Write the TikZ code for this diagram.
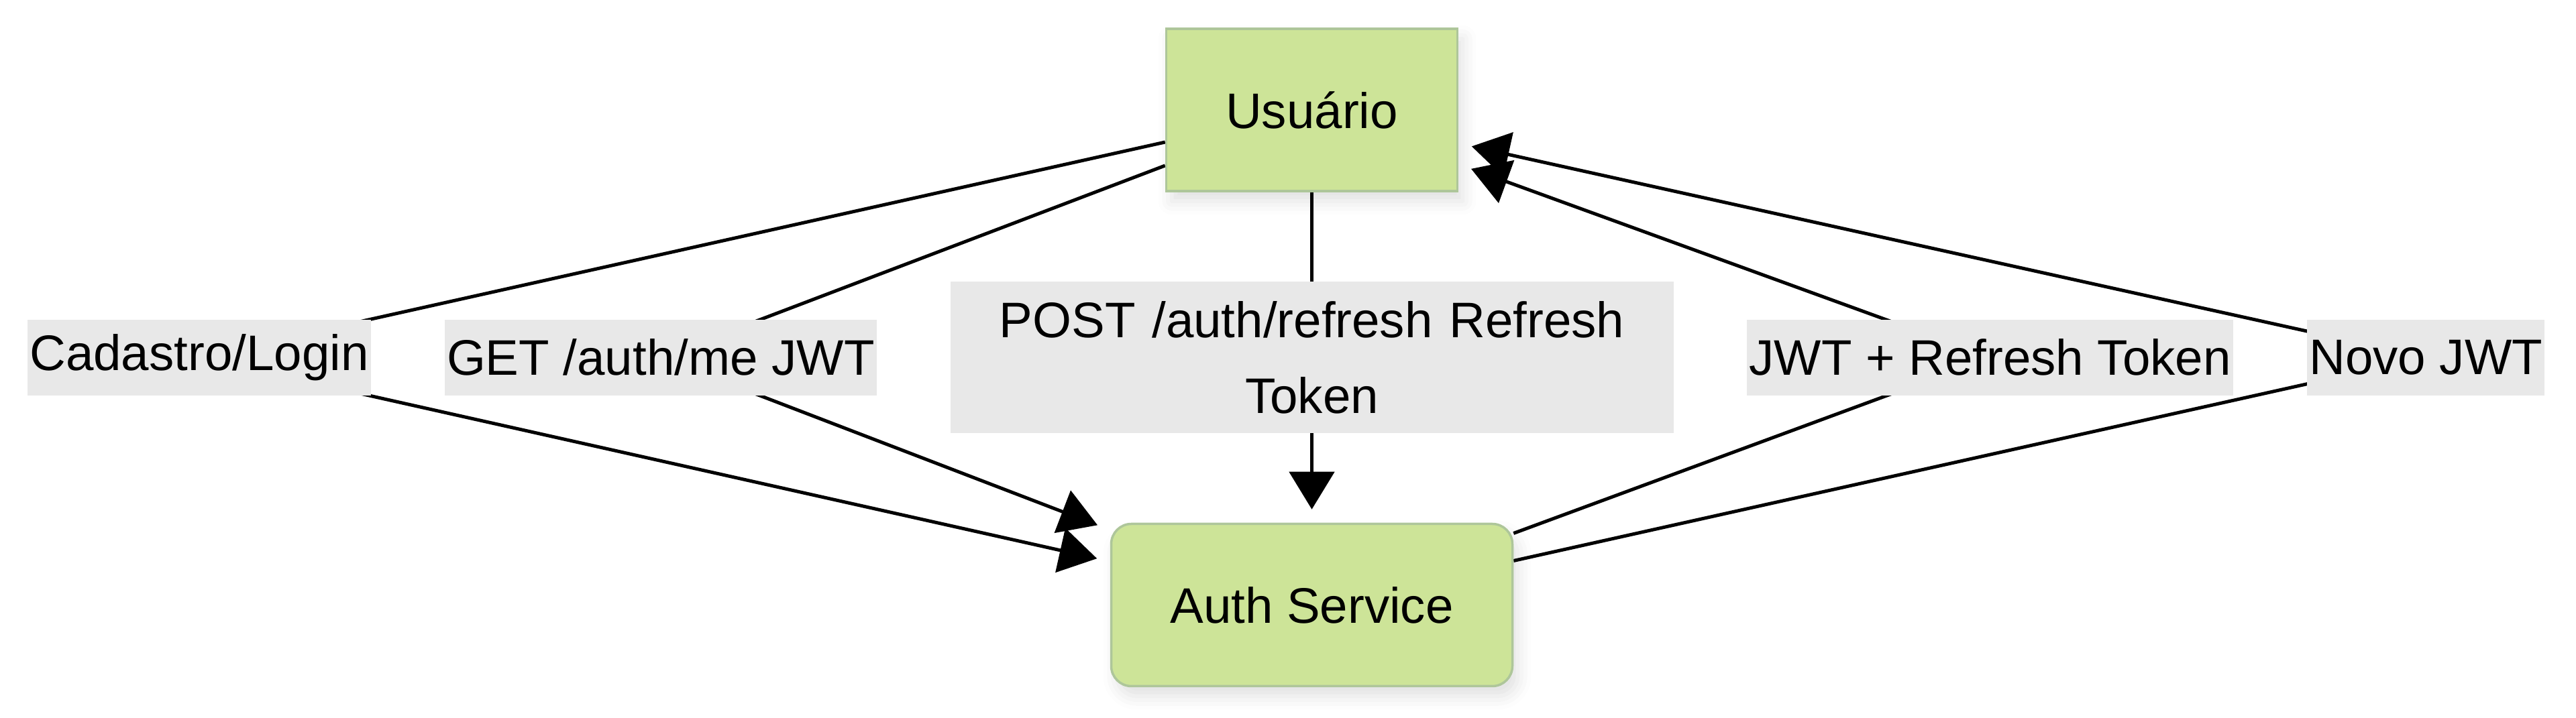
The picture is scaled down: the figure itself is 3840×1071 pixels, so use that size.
\documentclass[tikz,border=0pt]{standalone}
\usepackage{fontspec}
\setmainfont{Liberation Sans}
\usepackage{tikz}
\usetikzlibrary{arrows.meta,backgrounds,calc,positioning,shadows.blur}
\definecolor{nodefill}{HTML}{CDE498}
\definecolor{nodeline}{HTML}{AEC69A}
\definecolor{labelfill}{HTML}{E8E8E8}
\tikzstyle{entity}=[rectangle,draw=nodeline,line width=0.35mm,fill=nodefill,minimum width=43.4mm,minimum height=24.2mm,blur shadow={shadow xshift=0.8mm,shadow yshift=-1.5mm,shadow blur radius=2mm,shadow opacity=12}]
\tikzstyle{service}=[entity,rounded corners=3mm,minimum width=59.8mm]
\tikzstyle{msg}=[rectangle,fill=labelfill,inner xsep=0.35mm,inner ysep=0,minimum height=11.3mm,align=center]
\tikzstyle{flow}=[line width=0.5mm,shorten >=2mm]

\begin{document}
\begin{tikzpicture}[x=0.1mm,y=-0.1mm]
		\useasboundingbox (0,0) rectangle (3840,1071);
		\begin{scope}[node distance=10.8mm,>={Triangle[length=5.6mm,width=6.7mm]},font=\fontsize{21.2}{32.15}\selectfont]
			\node[entity]	(usuario)	at (1955.5,164)	{Usuário};
			\node[service]	(auth)	[below=49.3mm of usuario]	{Auth Service};
			
			\node[msg,text width=107.8mm,inner xsep=0,minimum height=22.6mm]	(refresh)	at ($(usuario)!.5!(auth)$)	{POST /auth/refresh Refresh\\Token};
			\node[msg]	(getme)	[left=of refresh]	{GET /auth/me JWT};
			\node[msg]	(login)	[left=of getme]	{Cadastro/Login};
			\node[msg]	(tokens)	[right=of refresh]	{JWT + Refresh Token};
			\node[msg]	(novojwt)	[right=of tokens]	{Novo JWT};
		\end{scope}
		\begin{scope}[on background layer,>={Triangle[length=5.6mm,width=6.7mm]}]
			\draw[flow,->]	([yshift=-4.8mm]usuario.west) -- (login.center) -- ([yshift=6.5mm]auth.west);
			\draw[flow,->]	([yshift=-8.3mm]usuario.west) -- (getme.center) -- ([yshift=11.2mm]auth.west);
			\draw[flow,->]	(usuario.south) -- (refresh.center) -- (auth.north);
			\draw[flow,->]	([yshift=10.7mm]auth.east) -- (tokens.center) -- ([yshift=-8.1mm]usuario.east);
			\draw[flow,->]	([yshift=6.6mm]auth.east) -- (novojwt.center) -- ([yshift=-5mm]usuario.east);
		\end{scope}
	\end{tikzpicture}
\end{document}
